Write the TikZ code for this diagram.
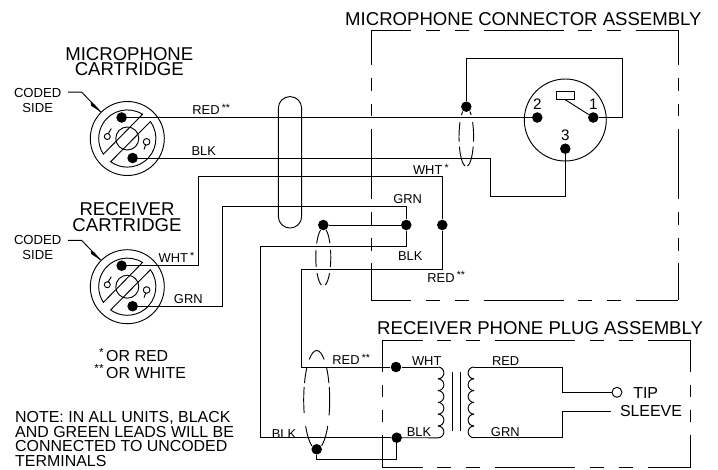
\documentclass[tikz,border=0pt]{standalone}
\usepackage{fontspec}
\setmainfont{Liberation Sans}
\newcommand{\astr}[1]{\rlap{\,\raisebox{2.6pt}{\fontsize{9}{9}\selectfont #1}}}
\newcommand{\shieldarcs}[5]{\foreach \a/\b in {#5} \draw[wire] (#1,#2) ++(\a:#3 and #4) arc[start angle=\a,end angle=\b,x radius=#3,y radius=#4];}
\tikzset{
 wire/.style={line width=0.8pt,black},
 dot/.style={circle,fill=black,inner sep=0pt,minimum size=9pt},
 wirelabel/.style={inner sep=0pt,anchor=base,font=\fontsize{11}{11}\selectfont},
 title/.style={inner sep=0pt,align=center,font=\fontsize{15.85}{13}\selectfont},
 sidelabel/.style={inner sep=0pt,align=center,font=\fontsize{11.2}{12.75}\selectfont},
 plain/.style={inner sep=0pt,font=\fontsize{13.6}{12.3}\selectfont},
 hedge/.style={wire,dash pattern=on 68pt off 12.75pt on 11.9pt off 12.75pt on 11.9pt off 12.75pt,dash phase=34pt},
 vedge/.style={wire,dash pattern=on 59.5pt off 11pt on 11pt off 11pt on 11pt off 11pt,dash phase=29.75pt},
 vedgeb/.style={wire,dash pattern=on 54.4pt off 11.05pt on 10.2pt off 11.05pt on 10.2pt off 11.05pt,dash phase=27.2pt},
 cartridge/.pic={
  \draw[wire] (0,0) circle (37);
  \draw[wire] (0,0) circle (11.5);
  \draw[wire] (-57.8:28.6) arc[start angle=-57.8,end angle=-213.2,radius=28.6] -- cycle;
  \draw[wire] (-36.3:28.6) arc[start angle=-36.3,end angle=125.6,radius=28.6] -- cycle;
  \draw[wire] (-20,-2) circle (3);
  \draw[wire] (-19,-5) -- (-16,-10);
  \draw[wire] (19.3,3.3) circle (3.3);
  \draw[wire] (18.3,6.5) -- (16.7,11);
  \node[dot] (-hot) at (-5.7,-21) {};
  \node[dot] (-cold) at (5.3,19.5) {};
  \coordinate (-start) at (-59.3,-46.3);
  \coordinate (-lead) at (-45.6,-46.3);
  \coordinate (-tip) at (-26.6,-26.6);
  \draw[wire] (-start) -- (-lead) -- (-tip);
  \fill[black] (-36.6,-35.6) -- (-33.2,-34.6) -- (-26.6,-26.6) -- (-36.0,-32.6) -- cycle;
 }
}
\begin{document}
\begin{tikzpicture}[x=0.03cm,y=-0.03cm]
 \useasboundingbox (0,0) rectangle (718,470);
 % assembly boxes
 \draw[hedge] (371.3,30) -- (678.3,30);
 \draw[hedge] (371.3,300) -- (678.3,300);
 \draw[vedge] (371.3,30) -- (371.3,300);
 \draw[vedge] (678.3,30) -- (678.3,300);
 \draw[hedge] (382.7,340) -- (690,340);
 \draw[hedge] (382.7,467.5) -- (690,467.5);
 \draw[vedgeb] (382.7,340) -- (382.7,467.5);
 \draw[vedgeb] (690,340) -- (690,467.5);
 % titles
 \node[title,anchor=base west] (mictitle) at (345,25) {MICROPHONE CONNECTOR ASSEMBLY};
 \node[title,anchor=base west] (rcvtitle) at (377,334) {RECEIVER PHONE PLUG ASSEMBLY};
 \node[title] (miccart) at (129.3,61.5) {MICROPHONE\\CARTRIDGE};
 \node[title] (rcvcart) at (127,217) {RECEIVER\\CARTRIDGE};
 % cartridges
 \pic (mic) at (127.3,138.5) {cartridge};
 \pic (rcv) at (127.3,286.7) {cartridge};
 \node[sidelabel] (micside) at (37.7,100.8) {CODED\\SIDE};
 \node[sidelabel] (rcvside) at (37.7,247.5) {CODED\\SIDE};
 % microphone connector
 \draw[wire] (565.3,120) circle (41);
 \node[draw,wire,inner sep=0pt,minimum width=15.3pt,minimum height=6.8pt] (key) at (565.3,95.3) {};
 \node[dot] (pin1) at (593.3,117.5) {};
 \node[dot] (pin2) at (537.3,117.5) {};
 \node[dot] (pin3) at (565.3,148.7) {};
 \node[plain,font=\fontsize{13}{13}\selectfont] (one) at (593.3,104.3) {1};
 \node[plain,font=\fontsize{13}{13}\selectfont] (two) at (537.3,104.3) {2};
 \node[plain,font=\fontsize{13}{13}\selectfont] (three) at (565.3,135.7) {3};
 \draw[wire] (key.south) -- (pin1);
 % shield dots and junctions
 \node[dot] (shtop) at (466.3,106.7) {};
 \node[dot] (shmid) at (323.3,225) {};
 \node[dot] (shlow) at (316.7,449.3) {};
 \node[dot] (grnjoin) at (406.3,225) {};
 \node[dot] (whtjoin) at (442.3,225) {};
 \node[dot] (wdot) at (396,367) {};
 \node[dot] (bdot) at (396.7,437.7) {};
 \node[draw,wire,circle,inner sep=0pt,minimum size=8.5pt] (tip) at (617,392.3) {};
 \coordinate (sleeve) at (610.7,411);
 \coordinate (coilA) at (438,367);
 \coordinate (coilB) at (438,437.8);
 \coordinate (coilC) at (474,367);
 \coordinate (coilD) at (474,437.8);
 % wires
 \draw[wire] (mic-hot) -- (pin2);
 \draw[wire] (pin1) -| (622.7,58.3) -| (shtop);
 \draw[wire] (mic-cold) -| (490,196) -| (pin3);
 \draw[wire] (rcv-hot) -| (198.7,176.3) -| (whtjoin);
 \draw[wire] (whtjoin) |- (301,269.3) |- (wdot);
 \draw[wire] (wdot) -- (coilA);
 \draw[wire] (rcv-cold) -| (222.7,206) -| (grnjoin);
 \draw[wire] (grnjoin) |- (260.7,246) |- (bdot);
 \draw[wire] (bdot) -- (coilB);
 \draw[wire] (shmid) -- (grnjoin);
 \draw[wire] (shlow) |- (396.7,459) -- (bdot);
 \draw[wire] (coilC) -| (562.3,392.3) -- (tip);
 \draw[wire] (coilD) -| (562.3,411) -- (sleeve);
 % shields
 \node[draw,wire,inner sep=0pt,minimum width=19.9pt,minimum height=112.2pt,rounded corners=9.9pt] (cable) at (290,162.3) {};
 \shieldarcs{466.3}{137}{7.3}{29.5}{-60/-48,-30/9,19/80,-132/-120,-189/-150,-260/-199}
 \shieldarcs{323.3}{257}{7.5}{29}{-69/-29,-14/20,34/75,-152/-111,-200/-166,-255/-214}
 \shieldarcs{316.7}{400}{13}{49.5}{-125/-55,-40/-20,-15/18,32/68,-160/-140,-195/-165,-248/-212}
 % transformer
 \foreach \i in {0,...,5} \draw[wire] (438,367+\i*11.8) arc[start angle=-90,end angle=90,radius=5.9];
 \foreach \i in {0,...,5} \draw[wire] (474,367+\i*11.8) arc[start angle=-90,end angle=-270,radius=5.9];
 \draw[wire] (452,371.7) -- (452,430.7);
 \draw[wire] (460,371.7) -- (460,430.7);
 % wire labels
 \node[wirelabel] (lred) at (206,114.7) {RED\astr{**}};
 \node[wirelabel] (lblk) at (203.7,155.7) {BLK};
 \node[wirelabel] (lwht) at (173.3,262.4) {WHT\astr{*}};
 \node[wirelabel] (lgrn) at (188.3,303) {GRN};
 \node[wirelabel] (lwhtb) at (427.7,174.7) {WHT\astr{*}};
 \node[wirelabel] (lgrnb) at (407.7,203) {GRN};
 \node[wirelabel] (lblkb) at (410.3,260) {BLK};
 \node[wirelabel] (lredb) at (441,282) {RED\astr{**}};
 \node[wirelabel] (lredc) at (346,364.7) {RED\astr{**}};
 \node[wirelabel] (lblkc) at (284,438) {BLK};
 \node[wirelabel] (lwhtc) at (426.7,365.7) {WHT};
 \node[wirelabel] (lblkd) at (419,436.4) {BLK};
 \node[wirelabel] (lredd) at (505.7,365.4) {RED};
 \node[wirelabel] (lgrnd) at (505.3,436.4) {GRN};
 % plug and notes
 \node[plain] (tiplabel) at (645.7,393.3) {TIP};
 \node[plain] (sleevelabel) at (651,410.7) {SLEEVE};
 \node[plain,anchor=base west] (orred) at (106,361.4) {\llap{\raisebox{4.3pt}{\fontsize{10}{10}\selectfont *}\,}OR RED};
 \node[plain,anchor=base west] (orwhite) at (106,378) {\llap{\raisebox{4.3pt}{\fontsize{10}{10}\selectfont **}\,}OR WHITE};
 \node[plain,align=left,anchor=west] (note) at (15,439) {NOTE: IN ALL UNITS, BLACK\\AND GREEN LEADS WILL BE\\CONNECTED TO UNCODED\\TERMINALS};
\end{tikzpicture}
\end{document}
